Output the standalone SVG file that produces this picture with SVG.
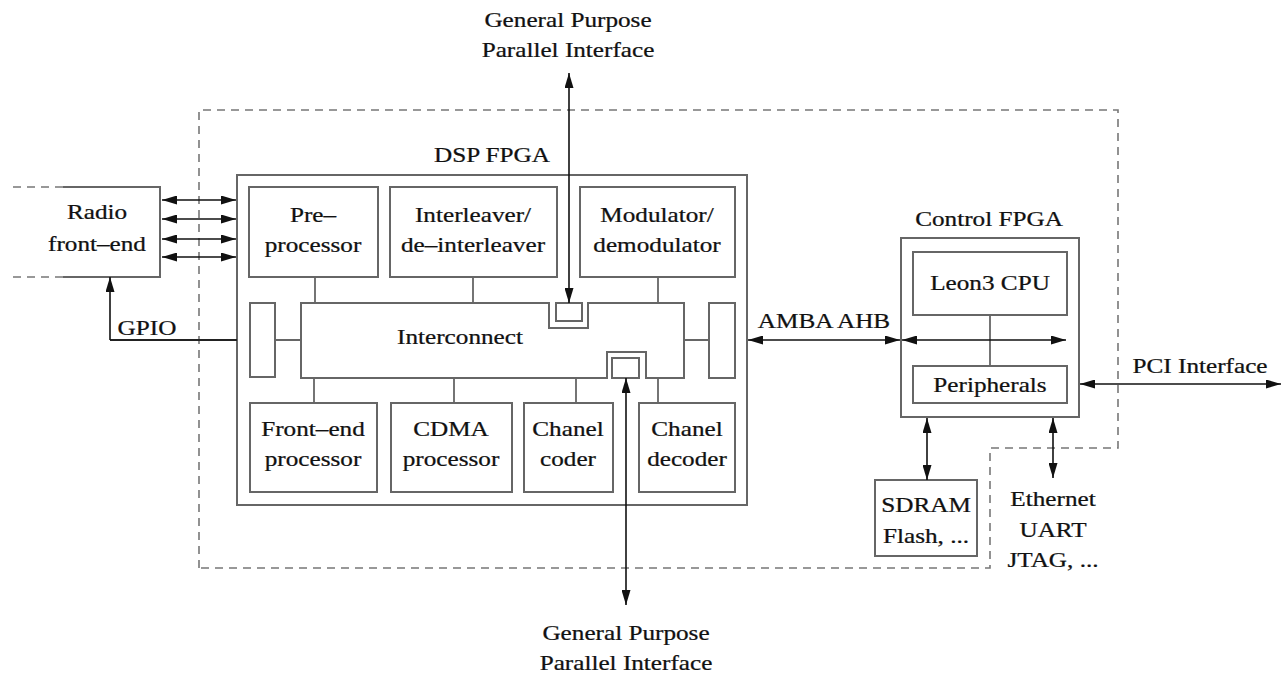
<svg xmlns="http://www.w3.org/2000/svg" width="1282" height="675" viewBox="0 0 1282 675">
  <style>
    .box { fill: none; stroke: #666; stroke-width: 2; }
    .wire { fill: none; stroke: #666; stroke-width: 1.8; }
    .arrow { fill: none; stroke: #111; stroke-width: 1.6; marker-start: url(#head); marker-end: url(#head); }
    .arrow1 { fill: none; stroke: #111; stroke-width: 1.6; marker-end: url(#head); }
    .dash { fill: none; stroke: #777; stroke-width: 1.6; stroke-dasharray: 8 6; }
    text { font-family: "Liberation Serif", "Times New Roman", serif; font-size: 21px; fill: #111; stroke: #111; stroke-width: 0.25; text-anchor: middle; }
  </style>
  <defs>
    <marker id="head" viewBox="0 0 15 9" refX="15" refY="4.5" markerWidth="15" markerHeight="9" markerUnits="userSpaceOnUse" orient="auto-start-reverse">
      <path d="M0,0 L15,4.5 L0,9 Z" fill="#111"/>
    </marker>
  </defs>
  <rect width="1282" height="675" fill="#fff"/>

  <!-- board boundary -->
  <path class="dash" d="M199,568 V110 H1118 V448 H990 V568 Z"/>

  <!-- radio front-end -->
  <g id="radio">
    <path class="dash" d="M13,187 H63 M13,277 H63"/>
    <path class="box" d="M63,187 H160 V277 H63"/>
    <text font-family="Liberation Serif, serif" transform="matrix(1.2 0 0 1 97 219)">Radio</text>
    <text font-family="Liberation Serif, serif" transform="matrix(1.2 0 0 1 97 251)">front–end</text>
  </g>

  <!-- DSP FPGA -->
  <g id="dsp-fpga">
    <rect class="box" x="237" y="175" width="510" height="330"/>
    <text font-family="Liberation Serif, serif" transform="matrix(1.2 0 0 1 492 162)">DSP FPGA</text>
  </g>
  <g id="preprocessor">
    <rect class="box" x="249" y="187" width="129" height="90"/>
    <text font-family="Liberation Serif, serif" transform="matrix(1.2 0 0 1 313 222)">Pre–</text>
    <text font-family="Liberation Serif, serif" transform="matrix(1.2 0 0 1 313 252)">processor</text>
  </g>
  <g id="interleaver">
    <rect class="box" x="390" y="187" width="167" height="90"/>
    <text font-family="Liberation Serif, serif" transform="matrix(1.2 0 0 1 473 222)">Interleaver/</text>
    <text font-family="Liberation Serif, serif" transform="matrix(1.2 0 0 1 473 252)">de–interleaver</text>
  </g>
  <g id="modulator">
    <rect class="box" x="580" y="187" width="155" height="90"/>
    <text font-family="Liberation Serif, serif" transform="matrix(1.2 0 0 1 657 222)">Modulator/</text>
    <text font-family="Liberation Serif, serif" transform="matrix(1.2 0 0 1 657 252)">demodulator</text>
  </g>
  <g id="interconnect">
    <path class="box" d="M301,303 H549 V328 H588 V303 H684 V378 H646 V352 H607 V378 H301 Z"/>
    <rect class="box" x="556" y="303" width="26" height="18"/>
    <rect class="box" x="612" y="358" width="27" height="20"/>
    <text font-family="Liberation Serif, serif" transform="matrix(1.2 0 0 1 460 344)">Interconnect</text>
  </g>
  <g id="port-left">
    <rect class="box" x="250" y="303" width="25" height="74"/>
  </g>
  <g id="port-right">
    <rect class="box" x="709" y="303" width="26" height="75"/>
  </g>
  <g id="frontend-processor">
    <rect class="box" x="250" y="403" width="127" height="89"/>
    <text font-family="Liberation Serif, serif" transform="matrix(1.2 0 0 1 313 436)">Front–end</text>
    <text font-family="Liberation Serif, serif" transform="matrix(1.2 0 0 1 313 466)">processor</text>
  </g>
  <g id="cdma-processor">
    <rect class="box" x="391" y="403" width="121" height="89"/>
    <text font-family="Liberation Serif, serif" transform="matrix(1.2 0 0 1 451 436)">CDMA</text>
    <text font-family="Liberation Serif, serif" transform="matrix(1.2 0 0 1 451 466)">processor</text>
  </g>
  <g id="channel-coder">
    <rect class="box" x="524" y="403" width="89" height="89"/>
    <text font-family="Liberation Serif, serif" transform="matrix(1.2 0 0 1 568 436)">Chanel</text>
    <text font-family="Liberation Serif, serif" transform="matrix(1.2 0 0 1 568 466)">coder</text>
  </g>
  <g id="channel-decoder">
    <rect class="box" x="639" y="403" width="96" height="89"/>
    <text font-family="Liberation Serif, serif" transform="matrix(1.2 0 0 1 687 436)">Chanel</text>
    <text font-family="Liberation Serif, serif" transform="matrix(1.2 0 0 1 687 466)">decoder</text>
  </g>

  <!-- Control FPGA -->
  <g id="control-fpga">
    <rect class="box" x="901" y="238" width="178" height="179"/>
    <text font-family="Liberation Serif, serif" transform="matrix(1.2 0 0 1 989 226)">Control FPGA</text>
  </g>
  <g id="leon3">
    <rect class="box" x="913" y="252" width="154" height="63"/>
    <text font-family="Liberation Serif, serif" transform="matrix(1.2 0 0 1 990 290)">Leon3 CPU</text>
  </g>
  <g id="peripherals">
    <rect class="box" x="913" y="366" width="154" height="37"/>
    <text font-family="Liberation Serif, serif" transform="matrix(1.2 0 0 1 990 392)">Peripherals</text>
  </g>
  <g id="sdram">
    <rect class="box" x="875" y="480" width="102" height="76"/>
    <text font-family="Liberation Serif, serif" transform="matrix(1.2 0 0 1 926 512)">SDRAM</text>
    <text font-family="Liberation Serif, serif" transform="matrix(1.2 0 0 1 926 543)">Flash, ...</text>
  </g>

  <!-- free labels -->
  <g id="labels">
    <text font-family="Liberation Serif, serif" transform="matrix(1.2 0 0 1 568 27)">General Purpose</text>
    <text font-family="Liberation Serif, serif" transform="matrix(1.2 0 0 1 568 57)">Parallel Interface</text>
    <text font-family="Liberation Serif, serif" transform="matrix(1.2 0 0 1 626 640)">General Purpose</text>
    <text font-family="Liberation Serif, serif" transform="matrix(1.2 0 0 1 626 670)">Parallel Interface</text>
    <text font-family="Liberation Serif, serif" transform="matrix(1.2 0 0 1 147 335)">GPIO</text>
    <text font-family="Liberation Serif, serif" transform="matrix(1.2 0 0 1 824 328)">AMBA AHB</text>
    <text font-family="Liberation Serif, serif" transform="matrix(1.2 0 0 1 1200 373)">PCI Interface</text>
    <text font-family="Liberation Serif, serif" transform="matrix(1.2 0 0 1 1053 506)">Ethernet</text>
    <text font-family="Liberation Serif, serif" transform="matrix(1.2 0 0 1 1053 537)">UART</text>
    <text font-family="Liberation Serif, serif" transform="matrix(1.2 0 0 1 1053 567)">JTAG, ...</text>
  </g>

  <!-- connectors -->
  <g id="connectors">
    <!-- module links to the interconnect -->
    <path class="wire" d="M315,277 V303 M473,277 V303 M658,277 V303"/>
    <path class="wire" d="M314,378 V403 M454,378 V403 M576,378 V403 M658,378 V403"/>
    <path class="wire" d="M275,340 H301 M684,340 H709 M990,315 V366"/>
    <!-- GPIO -->
    <path class="wire" d="M237,340 H110" style="stroke:#222"/>
    <path class="arrow1" d="M110,340 V277"/>
    <!-- radio links -->
    <path class="arrow" d="M162,200 H236"/>
    <path class="arrow" d="M162,219 H236"/>
    <path class="arrow" d="M162,239 H236"/>
    <path class="arrow" d="M162,257 H236"/>
    <!-- parallel interfaces -->
    <path class="arrow" d="M569,73 V303"/>
    <path class="arrow" d="M626,378 V605"/>
    <!-- buses -->
    <path class="arrow" d="M748,340 H900"/>
    <path class="arrow" d="M902,340 H1066"/>
    <path class="arrow" d="M1080,384 H1281"/>
    <path class="arrow" d="M927,418 V480"/>
    <path class="arrow" d="M1053,418 V478"/>
  </g>
</svg>
